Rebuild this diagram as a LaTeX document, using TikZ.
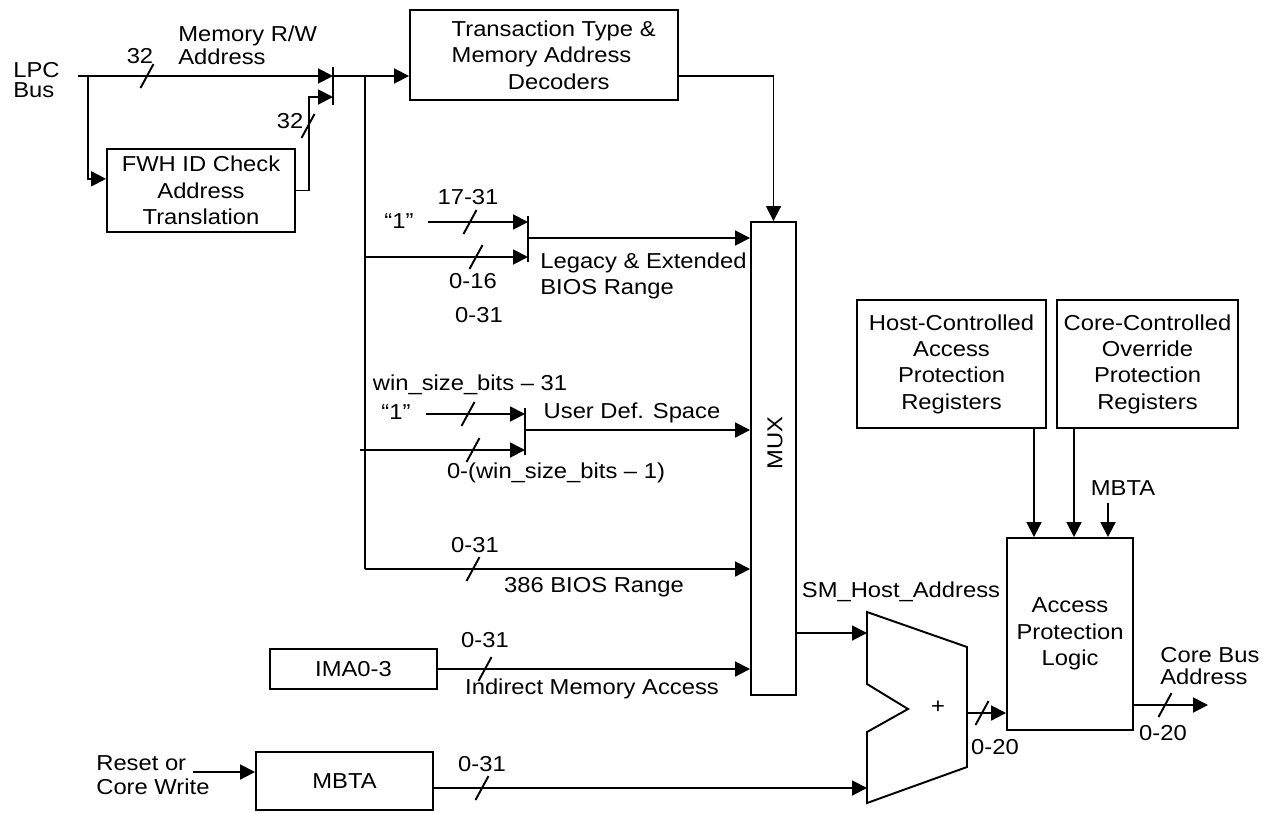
\documentclass[tikz,border=0pt]{standalone}
\usepackage{fontspec}
\setmainfont{Liberation Sans}[FakeStretch=1.1]
\usetikzlibrary{arrows.meta}

\tikzset{
  wire/.style={line width=1.1pt},
  bus/.style={wire, -{Triangle[length=8.5pt,width=8.5pt]}},
  blk/.style n args={2}{draw, wire, align=center, inner sep=0pt,
    minimum width=#1*0.02cm, minimum height=#2*0.02cm},
  lbl/.style={inner sep=0pt, align=center},
  busmark/.pic={\draw[wire] (-6.5,12) -- (6.5,-12);},
}

\begin{document}
\begin{tikzpicture}[x=0.02cm, y=-0.02cm, font=\fontsize{12.3}{15}\selectfont]
\useasboundingbox (0,0) rectangle (1266,812);

% blocks
\node[blk={188}{83}] (fwh) at (201,190.5) {FWH ID Check\\Address\\Translation};
\node[blk={268}{90}, align=left] (ttd) at (544,55)
    {\hspace*{11pt}Transaction Type \&\\\hspace*{11pt}Memory Address\\\hspace*{11pt}\hspace*{2.6em}Decoders};
\node[blk={45}{473}] (mux) at (773.5,458.5) {};
\node[lbl, rotate=90] (muxlbl) at (775,443) {MUX};
\node[blk={189}{128}] (hcr) at (951.5,364) {Host-Controlled\\Access\\Protection\\Registers};
\node[blk={181}{128}] (ccr) at (1147.5,364) {Core-Controlled\\Override\\Protection\\Registers};
\node[blk={126}{192}] (apl) at (1070,634) {Access\\Protection\\Logic};
\node[blk={167}{40}] (ima) at (353.5,669) {IMA0-3};
\node[blk={177}{58}] (mbta) at (344.5,781) {MBTA};

% adder
\draw[wire] (867,612) -- (967,647) -- (967,767) -- (867,803) -- (867,732)
    -- (908,709) -- (867,684) -- cycle;
\node[lbl] (plus) at (938,707) {+};
\coordinate (addA) at (867,633);
\coordinate (addB) at (867,788);
\coordinate (addO) at (967,713);

% LPC input and FWH path
\node[lbl, anchor=west, align=left, font=\fontsize{12.3}{11}\selectfont] (lpc) at (13,80) {LPC\\Bus};
\node[lbl, anchor=west, align=left, font=\fontsize{12.3}{13}\selectfont] (mrw) at (178,45) {Memory R/W\\Address};
\coordinate (lpcin) at (78,76);
\coordinate (tapf) at (88,76);
\coordinate (selin1) at (333,76);
\coordinate (selin2) at (333,97);
\draw[wire] (333,67) -- (333,105);
\draw[bus] (lpcin) -- (selin1);
\draw[bus] (tapf) |- (fwh.173);
\draw[bus] (fwh.east) -- ++(13,0) |- (selin2);
\pic at (147,76) {busmark};
\node[lbl] (w32a) at (140,56) {32};
\pic at (308,126) {busmark};
\node[lbl] (w32b) at (290,121) {32};

% address bus
\coordinate (bustop) at (365,76);
\coordinate (busbot) at (365,569);
\draw[bus] (selin1) -- (ttd.west |- selin1);
\draw[wire] (bustop) -- (busbot);
\draw[bus] (ttd.east |- selin1) -| (mux.north);

% legacy range
\coordinate (oneA) at (428,222);
\coordinate (legA) at (528,222);
\coordinate (legB) at (528,257);
\coordinate (legO) at (528,238);
\draw[wire] (528,216) -- (528,262);
\draw[bus] (oneA) -- (legA);
\draw[bus] (legB -| busbot) -- (legB);
\draw[bus] (legO) -- (legO -| mux.west);
\node[lbl] (oneAl) at (399,221) {“1”};
\pic at (470,222) {busmark};
\node[lbl] (w1731) at (468,197) {17-31};
\pic at (476,257) {busmark};
\node[lbl] (w016) at (473,281) {0-16};
\node[lbl] (w031a) at (479,315) {0-31};
\node[lbl, anchor=west, align=left] (leg) at (540,276) {Legacy \& Extended\\BIOS Range};

% user space
\coordinate (oneB) at (426,414);
\coordinate (usrin) at (360,450);
\coordinate (usrA) at (525,414);
\coordinate (usrB) at (525,450);
\coordinate (usrO) at (525,430);
\draw[wire] (525,408) -- (525,455);
\draw[bus] (oneB) -- (usrA);
\draw[bus] (usrin) -- (usrB);
\draw[bus] (usrO) -- (usrO -| mux.west);
\node[lbl] (oneBl) at (396,412) {“1”};
\pic at (468,414) {busmark};
\node[lbl] (wsz31) at (470,385) {win\_size\_bits -- 31};
\pic at (473,450) {busmark};
\node[lbl] (wsz1) at (556,473) {0-(win\_size\_bits -- 1)};
\node[lbl] (usr) at (632,413) {User Def. Space};

% 386 and indirect
\draw[bus] (busbot) -- (busbot -| mux.west);
\pic at (473,569) {busmark};
\node[lbl] (w031b) at (475,545) {0-31};
\node[lbl] (b386) at (594,587) {386 BIOS Range};
\draw[bus] (ima.east) -- (ima.east -| mux.west);
\pic at (485,669) {busmark};
\node[lbl] (w031c) at (485,640) {0-31};
\node[lbl] (ind) at (592,689) {Indirect Memory Access};

% MBTA and adder
\node[lbl, anchor=west, align=left, font=\fontsize{12.3}{14}\selectfont] (rst) at (96,775) {Reset or\\Core Write};
\coordinate (rstin) at (193,772);
\draw[bus] (rstin) -- (rstin -| mbta.west);
\draw[bus] (mbta.east |- addB) -- (addB);
\pic at (482,788) {busmark};
\node[lbl] (w031d) at (482,764) {0-31};
\draw[bus] (mux.east |- addA) -- (addA);
\node[lbl] (smh) at (901,592) {SM\_Host\_Address};
\draw[bus] (addO) -- (addO -| apl.west);
\pic at (982,713) {busmark};
\node[lbl] (w020a) at (995,747) {0-20};

% protection
\coordinate (xh) at (1034,0);
\coordinate (xc) at (1074,0);
\coordinate (xm) at (1108,503);
\draw[bus] (hcr.south -| xh) -- (apl.north -| xh);
\draw[bus] (ccr.south -| xc) -- (apl.north -| xc);
\draw[bus] (xm) -- (apl.north -| xm);
\node[lbl] (mbtal) at (1123,488) {MBTA};

% core bus out
\coordinate (cba) at (1208,705);
\draw[bus] (cba -| apl.east) -- (cba);
\pic at (1165,705) {busmark};
\node[lbl] (w020b) at (1163,733) {0-20};
\node[lbl, anchor=west, align=left, font=\fontsize{12.3}{13}\selectfont] (cbal) at (1160,666) {Core Bus\\Address};

\end{tikzpicture}
\end{document}
